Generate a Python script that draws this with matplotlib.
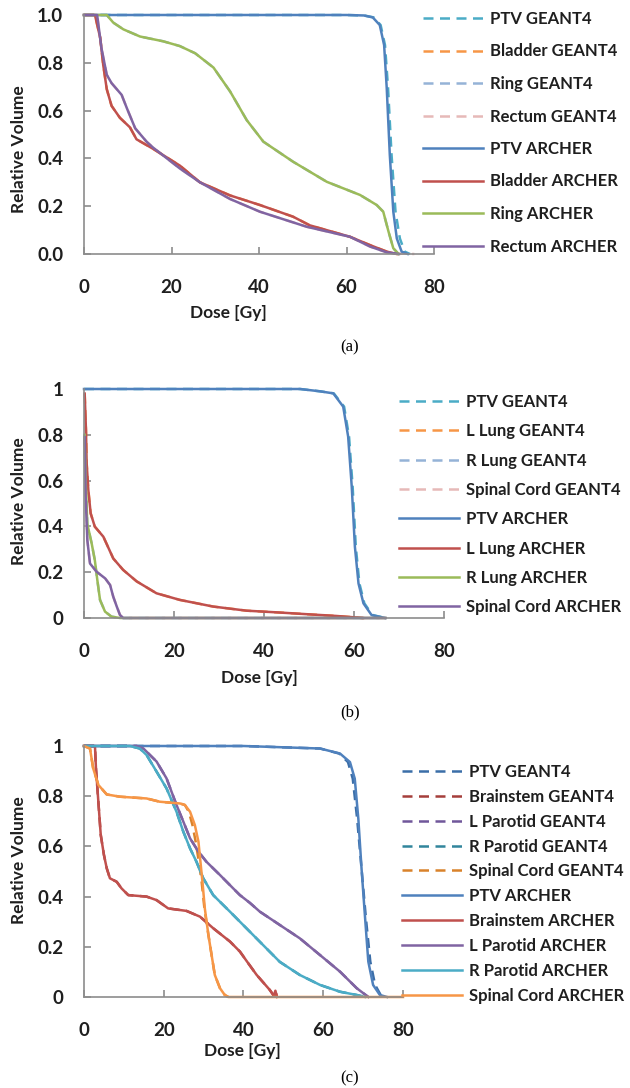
import matplotlib
matplotlib.use("Agg")
import matplotlib.pyplot as plt

plt.rcParams['font.family'] = ['Lato', 'DejaVu Sans']
plt.rcParams['font.weight'] = 'bold'

# ---------------- panel (a) : prostate ----------------
a_ptv_dose = [0, 60, 64, 66, 67.6, 68.6, 69.2, 69.9, 70.7, 71.5, 72.6, 74]
a_ptv_vol = [1.0, 1.0, 0.998, 0.99, 0.958, 0.874, 0.693, 0.414, 0.177, 0.065, 0.01, 0.0]
a_ptv_g4_dose = [0, 60, 64, 66.2, 67.8, 68.8, 69.5, 70.3, 71.2, 72.2, 73.3, 74.5]
a_ptv_g4_vol = [1.0, 1.0, 0.998, 0.99, 0.958, 0.874, 0.693, 0.414, 0.177, 0.065, 0.01, 0.0]
a_bladder_dose = [0, 2.5, 3.7, 4.4, 5.2, 6.3, 8.2, 10.5, 12.0, 15.8, 21.9, 26.5, 33.4,
                  40.2, 47.8, 51.6, 60.8, 65.4, 69.2, 71.5]
a_bladder_vol = [1.0, 1.0, 0.905, 0.79, 0.69, 0.62, 0.57, 0.53, 0.48, 0.44, 0.37, 0.30, 0.245,
                 0.205, 0.156, 0.12, 0.072, 0.037, 0.01, 0.0]
a_ring_dose = [0, 5.2, 6.7, 9.0, 12.8, 18.1, 21.9, 25.4, 29.6, 33.4, 37.2, 41.0, 47.8, 55.5,
               63.1, 66.9, 68.4, 69.6, 70.7, 71.9]
a_ring_vol = [1.0, 1.0, 0.968, 0.94, 0.91, 0.89, 0.87, 0.84, 0.78, 0.68, 0.56, 0.47, 0.386, 0.302,
              0.247, 0.205, 0.177, 0.094, 0.024, 0.0]
a_rectum_dose = [0, 3.0, 4.0, 5.2, 6.3, 8.6, 9.8, 11.7, 14.3, 15.8, 21.9, 26.5, 33.4, 40.2,
                 50.9, 60.8, 65.4, 69.2, 72]
a_rectum_vol = [1.0, 1.0, 0.86, 0.75, 0.715, 0.666, 0.61, 0.526, 0.47, 0.445, 0.358, 0.30, 0.23,
                0.177, 0.114, 0.072, 0.031, 0.007, 0.0]
a_rectum_g4_dose = [0, 3.0, 4.0, 5.2, 6.3, 8.6, 9.8, 11.7, 14.3, 15.8, 21.9, 26.5, 33.4, 40.2,
                    50.9, 60.8, 65.4, 69.2, 72, 75.5]
a_rectum_g4_vol = [1.0, 1.0, 0.86, 0.75, 0.715, 0.666, 0.61, 0.526, 0.47, 0.445, 0.358, 0.30, 0.23,
                   0.177, 0.114, 0.072, 0.031, 0.007, 0.002, 0.0]

# ---------------- panel (b) : lung ----------------
b_ptv_dose = [0, 48, 52.4, 55.4, 57.6, 58.7, 59.5, 60.2, 61.0, 62.1, 63.9, 66.9]
b_ptv_vol = [1.0, 1.0, 0.99, 0.981, 0.923, 0.792, 0.573, 0.311, 0.151, 0.064, 0.013, 0.0]
b_ptv_g4_dose = [0, 48, 52.4, 55.5, 57.8, 58.9, 59.7, 60.4, 61.2, 62.3, 64.1, 67.0]
b_ptv_g4_vol = [1.0, 1.0, 0.99, 0.981, 0.923, 0.792, 0.573, 0.311, 0.151, 0.064, 0.013, 0.0]
b_llung_dose = [0.15, 0.44, 0.59, 0.96, 1.48, 2.4, 4.3, 6.5, 8.7, 11.7, 16.1, 21.3, 28.7, 36.1,
                43.4, 50, 56, 62]
b_llung_vol = [0.98, 0.82, 0.676, 0.559, 0.457, 0.399, 0.355, 0.26, 0.21, 0.16, 0.108, 0.079,
               0.050, 0.032, 0.024, 0.016, 0.009, 0.0]
b_rlung_dose = [0.15, 0.37, 0.74, 1.7, 2.4, 2.96, 3.56, 4.67, 6.1, 8.0, 67]
b_rlung_vol = [0.80, 0.60, 0.41, 0.326, 0.253, 0.166, 0.079, 0.028, 0.006, 0.0, 0.0]
b_cord_dose = [0.15, 0.37, 0.74, 1.33, 2.8, 4.7, 5.8, 6.5, 7.3, 8.0, 8.7, 67]
b_cord_vol = [0.79, 0.53, 0.34, 0.238, 0.202, 0.173, 0.144, 0.093, 0.049, 0.013, 0.0, 0.0]

# ---------------- panel (c) : head and neck ----------------
c_ptv_dose = [0, 40, 59.2, 64.2, 66.7, 67.9, 68.8, 69.6, 70.5, 71.3, 72.5, 74.2, 76]
c_ptv_vol = [1.0, 1.0, 0.99, 0.97, 0.936, 0.87, 0.71, 0.512, 0.313, 0.141, 0.048, 0.008, 0.0]
c_ptv_g4_dose = [0, 40, 59.2, 64.0, 66.2, 67.4, 68.5, 69.6, 70.7, 71.8, 73.0, 74.4, 75.5]
c_ptv_g4_vol = [1.0, 1.0, 0.99, 0.97, 0.936, 0.87, 0.71, 0.512, 0.313, 0.141, 0.048, 0.008, 0.0]
c_brainstem_dose = [0, 2.75, 3.0, 3.6, 4.2, 5.0, 5.7, 6.5, 8.2, 9.4, 11.1, 15.7, 18.2, 21.1,
                    25.7, 29.1, 32.4, 36.6, 39.1, 40.8, 43.3, 46.6, 47.6, 48.0, 48.4]
c_brainstem_vol = [1.0, 1.0, 0.911, 0.778, 0.646, 0.566, 0.513, 0.473, 0.459, 0.433, 0.406, 0.40,
                   0.386, 0.353, 0.343, 0.32, 0.274, 0.221, 0.181, 0.143, 0.088, 0.028, 0.005,
                   0.025, 0.0]
c_lparotid_dose = [0, 13.2, 14.9, 18.2, 20.7, 23.2, 24.9, 26.6, 28.7, 30.7, 34.1, 37.4, 39.1,
                   41.6, 44.1, 49.1, 54.1, 59.2, 64.2, 68.4, 71.3]
c_lparotid_vol = [1.0, 1.0, 0.99, 0.938, 0.871, 0.765, 0.699, 0.632, 0.579, 0.539, 0.486, 0.433,
                  0.406, 0.375, 0.34, 0.287, 0.234, 0.167, 0.101, 0.035, 0.0]
c_rparotid_dose = [0, 11.5, 14.0, 15.7, 18.2, 20.7, 23.2, 24.9, 26.6, 28.2, 29.9, 32.4, 36.6,
                   39.1, 44.1, 49.1, 54.1, 59.2, 64.2, 68.4, 70.5]
c_rparotid_vol = [1.0, 1.0, 0.99, 0.964, 0.898, 0.831, 0.738, 0.659, 0.592, 0.539, 0.473, 0.406,
                  0.340, 0.30, 0.22, 0.14, 0.088, 0.048, 0.021, 0.008, 0.0]
c_cord_dose = [0, 1.5, 2.3, 3.6, 5.7, 9.0, 15.7, 19.0, 24.1, 25.3, 26.6, 27.8, 28.7, 29.2, 29.7,
               30.3, 31.2, 32.0, 32.8, 34.1, 35.3, 36.2, 80]
c_cord_vol = [1.0, 0.99, 0.911, 0.845, 0.807, 0.798, 0.791, 0.778, 0.771, 0.765, 0.738, 0.685,
              0.619, 0.539, 0.46, 0.353, 0.247, 0.167, 0.088, 0.035, 0.008, 0.0, 0.0]
c_cord_g4_dose = [0, 1.5, 2.3, 3.6, 5.7, 9.0, 15.7, 19.0, 24.1, 25.3, 26.3, 27.2, 28.0, 28.8,
                  29.5, 30.2, 31.2, 32.0, 32.8, 34.1, 35.3, 36.2]
c_cord_g4_vol = [1.0, 0.99, 0.911, 0.845, 0.807, 0.798, 0.791, 0.778, 0.771, 0.765, 0.738, 0.685,
                 0.619, 0.539, 0.46, 0.353, 0.247, 0.167, 0.088, 0.035, 0.008, 0.0]

a_yticklabels = ['0.0', '0.2', '0.4', '0.6', '0.8', '1.0']
bc_yticklabels = ['0', '0.2', '0.4', '0.6', '0.8', '1']

W, H = 630, 1088
DASH = (4, 2.6)
LW = 1.8
TXT = '#1f1f1f'
AXC = '#8c8c8c'

fig = plt.figure(figsize=(W / 100, H / 100), dpi=100)


def px_axes(left, right, top, bottom):
    return fig.add_axes([left / W, 1 - bottom / H, (right - left) / W, (bottom - top) / H])


def style_axes(ax, ylabels):
    ax.set_xlim(0, 80)
    ax.set_ylim(0, 1)
    ax.set_xticks([0, 20, 40, 60, 80])
    ax.set_yticks([0, 0.2, 0.4, 0.6, 0.8, 1.0])
    ax.set_yticklabels(ylabels)
    for s in ['top', 'right']:
        ax.spines[s].set_visible(False)
    for s in ['left', 'bottom']:
        ax.spines[s].set_color(AXC)
        ax.spines[s].set_linewidth(1.2)
    ax.tick_params(direction='in', length=5, width=1.2, color=AXC, labelsize=13.5,
                   labelcolor=TXT)
    ax.tick_params(axis='x', pad=18)
    ax.tick_params(axis='y', pad=15)
    for lab in ax.get_xticklabels() + ax.get_yticklabels():
        lab.set_fontweight('bold')


def draw_panel(ax, series, legend_anchor, spacing):
    handles = []
    for dose, vol, color, dashed, label in series:
        if dashed:
            ln, = ax.plot(dose, vol, color=color, lw=LW, dashes=DASH, label=label)
        else:
            ln, = ax.plot(dose, vol, color=color, lw=LW, label=label)
        ln.set_clip_on(False)
        handles.append(ln)
    leg = ax.legend(handles=handles, loc='upper left', frameon=False,
                    bbox_to_anchor=(legend_anchor[0] / W, 1 - legend_anchor[1] / H),
                    bbox_transform=fig.transFigure, borderpad=0, borderaxespad=0,
                    handlelength=3.6, handletextpad=0.45, labelspacing=spacing,
                    prop={'size': 12, 'weight': 'bold'})
    for t in leg.get_texts():
        t.set_color(TXT)


# panel (a)
ax_a = px_axes(84, 434, 15, 254)
style_axes(ax_a, a_yticklabels)
draw_panel(ax_a, [
    (a_ptv_g4_dose, a_ptv_g4_vol, '#4BACC6', True, 'PTV GEANT4'),
    (a_bladder_dose, a_bladder_vol, '#F79646', True, 'Bladder GEANT4'),
    (a_ring_dose, a_ring_vol, '#95B3D7', True, 'Ring GEANT4'),
    (a_rectum_g4_dose, a_rectum_g4_vol, '#E6B9B8', True, 'Rectum GEANT4'),
    (a_ptv_dose, a_ptv_vol, '#4F81BD', False, 'PTV ARCHER'),
    (a_bladder_dose, a_bladder_vol, '#C0504D', False, 'Bladder ARCHER'),
    (a_ring_dose, a_ring_vol, '#9BBB59', False, 'Ring ARCHER'),
    (a_rectum_dose, a_rectum_vol, '#8064A2', False, 'Rectum ARCHER'),
], (423, 11), 0.99)

# panel (b)
ax_b = px_axes(84, 444, 389, 618)
style_axes(ax_b, bc_yticklabels)
draw_panel(ax_b, [
    (b_ptv_g4_dose, b_ptv_g4_vol, '#4BACC6', True, 'PTV GEANT4'),
    (b_llung_dose, b_llung_vol, '#F79646', True, 'L Lung GEANT4'),
    (b_rlung_dose, b_rlung_vol, '#95B3D7', True, 'R Lung GEANT4'),
    (b_cord_dose, b_cord_vol, '#E6B9B8', True, 'Spinal Cord GEANT4'),
    (b_ptv_dose, b_ptv_vol, '#4F81BD', False, 'PTV ARCHER'),
    (b_llung_dose, b_llung_vol, '#C0504D', False, 'L Lung ARCHER'),
    (b_rlung_dose, b_rlung_vol, '#9BBB59', False, 'R Lung ARCHER'),
    (b_cord_dose, b_cord_vol, '#8064A2', False, 'Spinal Cord ARCHER'),
], (399, 394), 0.80)

# panel (c)
ax_c = px_axes(84, 403, 746, 997)
style_axes(ax_c, bc_yticklabels)
draw_panel(ax_c, [
    (c_ptv_g4_dose, c_ptv_g4_vol, '#3B6EA8', True, 'PTV GEANT4'),
    (c_brainstem_dose, c_brainstem_vol, '#A53E3B', True, 'Brainstem GEANT4'),
    (c_lparotid_dose, c_lparotid_vol, '#70579A', True, 'L Parotid GEANT4'),
    (c_rparotid_dose, c_rparotid_vol, '#31859C', True, 'R Parotid GEANT4'),
    (c_cord_g4_dose, c_cord_g4_vol, '#D9822B', True, 'Spinal Cord GEANT4'),
    (c_ptv_dose, c_ptv_vol, '#4F81BD', False, 'PTV ARCHER'),
    (c_brainstem_dose, c_brainstem_vol, '#C0504D', False, 'Brainstem ARCHER'),
    (c_lparotid_dose, c_lparotid_vol, '#8064A2', False, 'L Parotid ARCHER'),
    (c_rparotid_dose, c_rparotid_vol, '#4BACC6', False, 'R Parotid ARCHER'),
    (c_cord_dose, c_cord_vol, '#F79646', False, 'Spinal Cord ARCHER'),
], (402, 764), 0.53)

# axis titles and panel captions
for x, y, s in [(228, 313, 'Dose [Gy]'), (259, 678, 'Dose [Gy]'), (242, 1051, 'Dose [Gy]')]:
    fig.text(x / W, 1 - y / H, s, ha='center', va='center', fontsize=12.5,
             fontweight='bold', color=TXT)
for y in [149, 501, 860]:
    fig.text(19 / W, 1 - y / H, 'Relative Volume', ha='center', va='center', rotation=90,
             fontsize=12.5, fontweight='bold', color=TXT)
for x, y, s in [(350, 347, '(a)'), (350, 712, '(b)'), (350, 1078, '(c)')]:
    fig.text(x / W, 1 - y / H, s, ha='center', va='center', fontsize=12,
             family='Liberation Serif', fontweight='normal', color='black')

fig.savefig('out.png', dpi=100)
